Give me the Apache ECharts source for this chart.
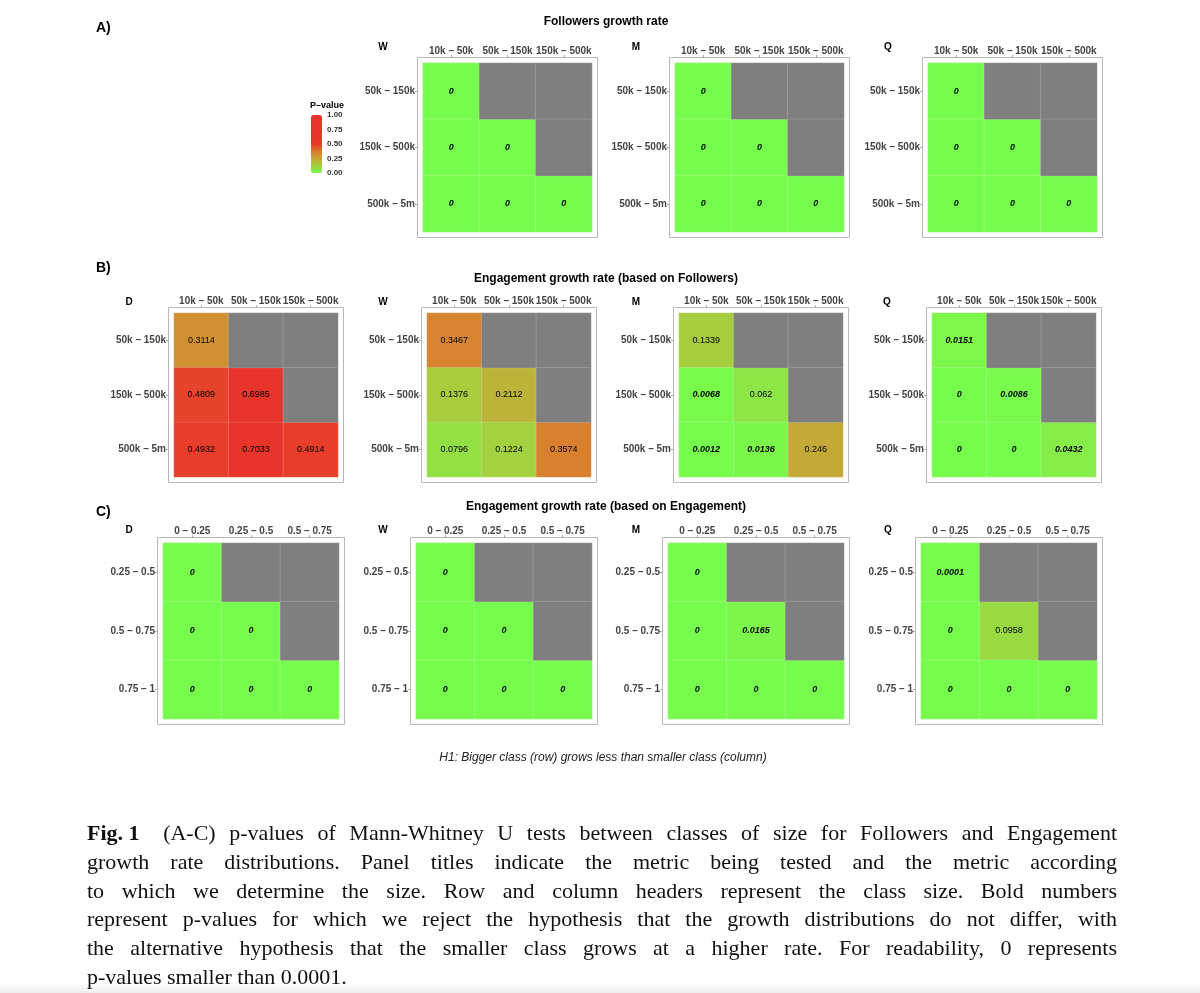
<!DOCTYPE html>
<html><head><meta charset="utf-8">
<script src="https://cdn.jsdelivr.net/npm/echarts@6/dist/echarts.min.js"></script>
<style>html,body{margin:0;padding:0;background:#fff}#c{width:1200px;height:993px}</style>
</head><body><div id="c"></div>
<script>
// ---------------- DATA ----------------
const followerCols = ['10k – 50k', '50k – 150k', '150k – 500k'];
const followerRows = ['50k – 150k', '150k – 500k', '500k – 5m'];
const engageCols = ['0 – 0.25', '0.25 – 0.5', '0.5 – 0.75'];
const engageRows = ['0.25 – 0.5', '0.5 – 0.75', '0.75 – 1'];

// p-values, rows x columns (null = not tested)
const followersW = [[0, null, null], [0, 0, null], [0, 0, 0]];
const followersM = [[0, null, null], [0, 0, null], [0, 0, 0]];
const followersQ = [[0, null, null], [0, 0, null], [0, 0, 0]];

const engFolD = [[0.3114, null, null], [0.4809, 0.6985, null], [0.4932, 0.7033, 0.4914]];
const engFolW = [[0.3467, null, null], [0.1376, 0.2112, null], [0.0796, 0.1224, 0.3574]];
const engFolM = [[0.1339, null, null], [0.0068, 0.062, null], [0.0012, 0.0136, 0.246]];
const engFolQ = [[0.0151, null, null], [0, 0.0086, null], [0, 0, 0.0432]];

const engEngD = [[0, null, null], [0, 0, null], [0, 0, 0]];
const engEngW = [[0, null, null], [0, 0, null], [0, 0, 0]];
const engEngM = [[0, null, null], [0, 0.0165, null], [0, 0, 0]];
const engEngQ = [[0.0001, null, null], [0, 0.0958, null], [0, 0, 0]];

const alpha = 0.05;
const legendMin = 0, legendMax = 1, legendStep = 0.25;

const sectionTitles = ['Followers growth rate', 'Engagement growth rate (based on Followers)', 'Engagement growth rate (based on Engagement)'];
const sectionTags = ['A)', 'B)', 'C)'];
const noteText = 'H1: Bigger class (row) grows less than smaller class (column)';
const captionLines = [
  'Fig. 1 (A-C) p-values of Mann-Whitney U tests between classes of size for Followers and Engagement',
  'growth rate distributions. Panel titles indicate the metric being tested and the metric according',
  'to which we determine the size. Row and column headers represent the class size. Bold numbers',
  'represent p-values for which we reject the hypothesis that the growth distributions do not differ, with',
  'the alternative hypothesis that the smaller class grows at a higher rate. For readability, 0 represents',
  'p-values smaller than 0.0001.'
];

// ---------------- LAYOUT / STYLE ----------------
const FONT = '"Liberation Sans", Arial, Helvetica, sans-serif';
const pColors = ['#76FC4C', '#A4D03F', '#C6A836', '#DC7A2E', '#E8392A', '#E8342A', '#E8342A', '#E8342A', '#E8342A'];
const NA_COLOR = '#7F7F7F';

const panels = [
  {tag: 'W', cols: followerCols, rows: followerRows, vals: followersW, left: 423, top: 63, size: 169, tx: 383, ty: 47},
  {tag: 'M', cols: followerCols, rows: followerRows, vals: followersM, left: 675, top: 63, size: 169, tx: 636, ty: 47},
  {tag: 'Q', cols: followerCols, rows: followerRows, vals: followersQ, left: 928, top: 63, size: 169, tx: 888, ty: 47},
  {tag: 'D', cols: followerCols, rows: followerRows, vals: engFolD, left: 174, top: 313, size: 164, tx: 129, ty: 302},
  {tag: 'W', cols: followerCols, rows: followerRows, vals: engFolW, left: 427, top: 313, size: 164, tx: 383, ty: 302},
  {tag: 'M', cols: followerCols, rows: followerRows, vals: engFolM, left: 679, top: 313, size: 164, tx: 636, ty: 302},
  {tag: 'Q', cols: followerCols, rows: followerRows, vals: engFolQ, left: 932, top: 313, size: 164, tx: 887, ty: 302},
  {tag: 'D', cols: engageCols, rows: engageRows, vals: engEngD, left: 163, top: 543, size: 176, tx: 129, ty: 530},
  {tag: 'W', cols: engageCols, rows: engageRows, vals: engEngW, left: 416, top: 543, size: 176, tx: 383, ty: 530},
  {tag: 'M', cols: engageCols, rows: engageRows, vals: engEngM, left: 668, top: 543, size: 176, tx: 636, ty: 530},
  {tag: 'Q', cols: engageCols, rows: engageRows, vals: engEngQ, left: 921, top: 543, size: 176, tx: 888, ty: 530}
];
const sectionPos = [{tx: 96, ty: 28, cy: 22}, {tx: 96, ty: 268, cy: 279}, {tx: 96, ty: 512, cy: 507}];

const option = {
  animation: false,
  backgroundColor: '#ffffff',
  grid: [], xAxis: [], yAxis: [], series: [], graphic: [],
  visualMap: []
};
const valueSeries = [];

panels.forEach((p, i) => {
  option.grid.push({left: p.left, top: p.top, width: p.size, height: p.size, show: false, outerBoundsMode: 'none', containLabel: false});
  const tickStyle = {show: true, alignWithLabel: true, length: 3, lineStyle: {color: '#aaaaaa', width: 1}};
  const lab = {interval: 0, fontSize: 10, fontWeight: 'bold', color: '#444444', fontFamily: FONT};
  option.xAxis.push({type: 'category', gridIndex: i, data: p.cols, position: 'top', offset: 5,
    axisLine: {show: false}, axisTick: tickStyle, axisLabel: Object.assign({margin: 2}, lab),
    splitLine: {show: false}, splitArea: {show: false}});
  option.yAxis.push({type: 'category', gridIndex: i, data: p.rows, inverse: true, position: 'left', offset: 5,
    axisLine: {show: false}, axisTick: tickStyle, axisLabel: Object.assign({margin: 3}, lab),
    splitLine: {show: false}, splitArea: {show: false}});

  const valData = [], naData = [];
  p.vals.forEach((row, r) => row.forEach((v, c) => {
    if (v === null) { naData.push([c, r, 0]); return; }
    const sig = v < alpha;
    valData.push({value: [c, r, v], label: {fontWeight: sig ? 'bold' : 'normal', fontStyle: sig ? 'italic' : 'normal'}});
  }));
  valueSeries.push(option.series.length);
  option.series.push({type: 'heatmap', xAxisIndex: i, yAxisIndex: i, data: valData,
    itemStyle: {borderColor: 'rgba(255,255,255,0.18)', borderWidth: 1},
    label: {show: true, formatter: (q) => String(q.value[2]), fontSize: 9, color: '#000', fontFamily: FONT},
    emphasis: {disabled: true}, silent: true});
  option.series.push({type: 'heatmap', xAxisIndex: i, yAxisIndex: i, data: naData,
    itemStyle: {color: NA_COLOR, borderColor: 'rgba(255,255,255,0.15)', borderWidth: 1},
    label: {show: false}, emphasis: {disabled: true}, silent: true});

  option.graphic.push({type: 'rect', silent: true,
    shape: {x: p.left - 5.5, y: p.top - 5.5, width: p.size + 11, height: p.size + 11},
    style: {fill: 'none', stroke: '#b8b8b8', lineWidth: 1}});
  option.graphic.push({type: 'text', x: p.tx, y: p.ty, silent: true,
    style: {text: p.tag, font: 'bold 10px ' + FONT, fill: '#000', textAlign: 'center', align: 'center', textVerticalAlign: 'middle', verticalAlign: 'middle'}});
});

// legend (colour bar + axis)
const li = panels.length;
option.grid.push({left: 311, top: 115, width: 11, height: 58, show: false, outerBoundsMode: 'none'});
option.xAxis.push({type: 'value', gridIndex: li, show: false});
option.yAxis.push({type: 'value', gridIndex: li, min: legendMin, max: legendMax, interval: legendStep, position: 'right', z: 10,
  axisLine: {show: false}, splitLine: {show: false},
  axisTick: {show: true, inside: true, length: 2, lineStyle: {color: '#ffffff', width: 1}},
  axisLabel: {margin: 5, fontSize: 8, fontWeight: 'bold', color: '#333', fontFamily: FONT, formatter: (v) => v.toFixed(2)}});
option.visualMap.push({type: 'continuous', min: legendMin, max: legendMax, seriesIndex: valueSeries,
  calculable: false, show: true, left: 311, top: 115, itemWidth: 11, itemHeight: 58, padding: 0,
  text: null, hoverLink: false, inRange: {color: pColors}});
option.graphic.push({type: 'text', x: 310, y: 106, silent: true,
  style: {text: 'P–value', font: 'bold 9px ' + FONT, fill: '#000', textVerticalAlign: 'middle', verticalAlign: 'middle'}});

// section titles and tags
sectionTitles.forEach((t, k) => {
  option.graphic.push({type: 'text', x: 606, y: sectionPos[k].cy, silent: true,
    style: {text: t, font: 'bold 12px ' + FONT, fill: '#000', textAlign: 'center', align: 'center', textVerticalAlign: 'middle', verticalAlign: 'middle'}});
  option.graphic.push({type: 'text', x: sectionPos[k].tx, y: sectionPos[k].ty, silent: true,
    style: {text: sectionTags[k], font: 'bold 14px ' + FONT, fill: '#000', textVerticalAlign: 'middle', verticalAlign: 'middle'}});
});
option.graphic.push({type: 'text', x: 603, y: 758, silent: true,
  style: {text: noteText, font: 'italic 12px ' + FONT, fill: '#222', textAlign: 'center', align: 'center', textVerticalAlign: 'middle', verticalAlign: 'middle'}});

// caption, justified
const CAP_X0 = 87, CAP_X1 = 1117, CAP_Y0 = 834, CAP_DY = 28.8, CAP_SIZE = 22;
const CAP_FONT = CAP_SIZE + 'px "Liberation Serif", "Times New Roman", serif';
const mctx = document.createElement('canvas').getContext('2d');
captionLines.forEach((line, ln) => {
  let words = line.split(' ').map(w => ({t: w, bold: false}));
  let quad = 0;
  if (ln === 0) { words.splice(0, 2, {t: 'Fig. 1', bold: true}); quad = 10; }
  const fonts = words.map(w => (w.bold ? 'bold ' : '') + CAP_FONT);
  const widths = words.map((w, k) => { mctx.font = fonts[k]; return mctx.measureText(w.t).width; });
  mctx.font = CAP_FONT;
  const spaceW = mctx.measureText(' ').width;
  const sum = widths.reduce((a, b) => a + b, 0);
  const last = ln === captionLines.length - 1;
  const gap = last ? spaceW : (CAP_X1 - CAP_X0 - sum - quad) / (words.length - 1);
  let x = CAP_X0;
  const y = Math.round(CAP_Y0 + CAP_DY * ln);
  words.forEach((w, k) => {
    option.graphic.push({type: 'text', x: x, y: y, silent: true,
      style: {text: w.t, font: fonts[k], fill: '#111', textVerticalAlign: 'middle', verticalAlign: 'middle'}});
    x += widths[k] + gap + (k === 0 ? quad : 0);
  });
});
// bottom page shading
option.graphic.push({type: 'rect', silent: true, shape: {x: 0, y: 983, width: 1200, height: 10},
  style: {fill: new echarts.graphic.LinearGradient(0, 0, 0, 1, [{offset: 0, color: 'rgba(0,0,0,0)'}, {offset: 1, color: 'rgba(0,0,0,0.07)'}])}});

const chart = echarts.init(document.getElementById('c'), null, {renderer: 'canvas'});
chart.setOption(option);
</script></body></html>
